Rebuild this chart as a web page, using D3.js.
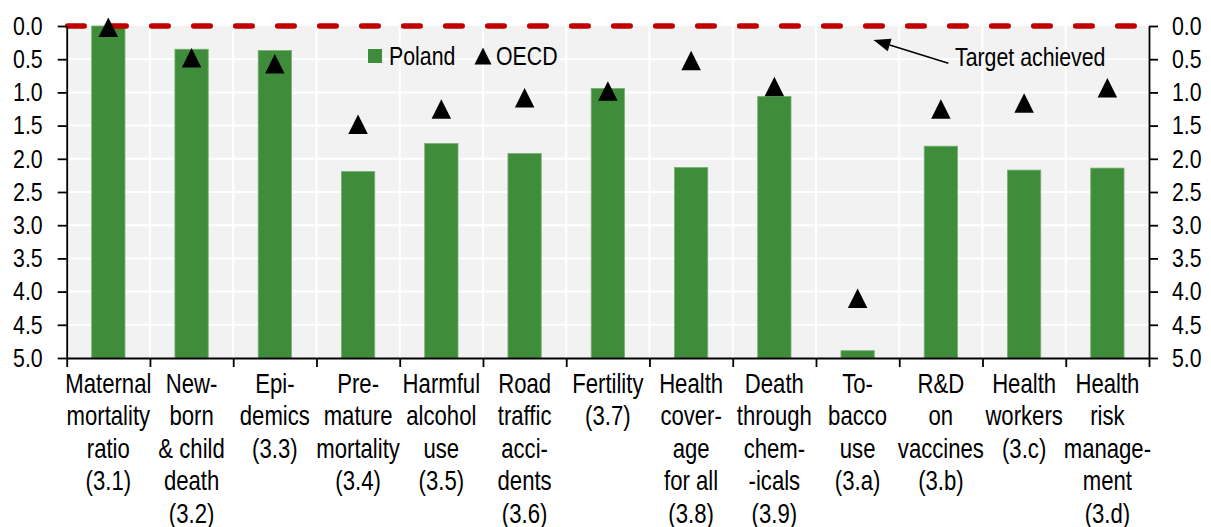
<!DOCTYPE html>
<html>
<head>
<meta charset="utf-8">
<script src="https://cdn.jsdelivr.net/npm/d3@7"></script>
<style>
  body { margin: 0; background: #fff; }
  text { font-family: 'Liberation Sans', Arial, sans-serif; fill: #000; }
</style>
</head>
<body>
<svg id="chart" width="1211" height="527"></svg>
<script>
// SDG 3 distance to target, Poland vs OECD (0 = target achieved)
var categories = [
  'Maternal mortality ratio (3.1)', 'Newborn & child death (3.2)', 'Epidemics (3.3)',
  'Premature mortality (3.4)', 'Harmful alcohol use (3.5)', 'Road traffic accidents (3.6)',
  'Fertility (3.7)', 'Health coverage for all (3.8)', 'Death through chemicals (3.9)',
  'Tobacco use (3.a)', 'R&D on vaccines (3.b)', 'Health workers (3.c)',
  'Health risk management (3.d)'
];
var labelLines = [
  ['Maternal', 'mortality', 'ratio', '(3.1)'],
  ['New-', 'born', '& child', 'death', '(3.2)'],
  ['Epi-', 'demics', '(3.3)'],
  ['Pre-', 'mature', 'mortality', '(3.4)'],
  ['Harmful', 'alcohol', 'use', '(3.5)'],
  ['Road', 'traffic', 'acci-', 'dents', '(3.6)'],
  ['Fertility', '(3.7)'],
  ['Health', 'cover-', 'age', 'for all', '(3.8)'],
  ['Death', 'through', 'chem-', '-icals', '(3.9)'],
  ['To-', 'bacco', 'use', '(3.a)'],
  ['R&D', 'on', 'vaccines', '(3.b)'],
  ['Health', 'workers', '(3.c)'],
  ['Health', 'risk', 'manage-', 'ment', '(3.d)']
];
var poland = [0.0, 0.35, 0.37, 2.19, 1.77, 1.92, 0.94, 2.13, 1.06, 4.89, 1.81, 2.17, 2.14];
var oecd = [0.02, 0.48, 0.57, 1.48, 1.25, 1.08, 0.98, 0.52, 0.91, 4.10, 1.25, 1.16, 0.93];
var yTicks = [0, 0.5, 1, 1.5, 2, 2.5, 3, 3.5, 4, 4.5, 5];
var targetValue = 0;

var opts = {
  left: 66.7,
  right: 1149,
  top: 26,
  bottom: 358,
  barFrac: 0.4,
  triSize: 19.5,
  green: '#3f8d3b',
  red: '#c00000',
  plotBg: '#f2f2f2',
  fontSize: 26,
  labelSize: 27,
  lineHeight: 32.5,
  squeeze: 0.82   // no Arial Narrow installed, so condense Liberation Sans
};

var svg = d3.select('#chart');

var x = d3.scaleBand()
  .domain(categories)
  .range([opts.left, opts.right])
  .padding(0);

var y = d3.scaleLinear()
  .domain([0, 5])
  .range([opts.top, opts.bottom]);

var bw = x.bandwidth();
var edges = d3.range(categories.length + 1).map(function(i) {
  return opts.left + i * bw;
});

// move x into a transform so the horizontal squeeze keeps the anchor point
function narrow(sel) {
  sel.each(function() {
    var t = d3.select(this);
    var tx = +t.attr('x') || 0;
    var ty = +t.attr('y') || 0;
    t.attr('x', 0).attr('y', 0)
      .attr('transform', 'translate(' + tx + ',' + ty + ') scale(' + opts.squeeze + ',1)');
  });
}

// plot background + grid
svg.append('rect')
  .attr('x', opts.left)
  .attr('y', opts.top)
  .attr('width', opts.right - opts.left)
  .attr('height', opts.bottom - opts.top)
  .attr('fill', opts.plotBg);

svg.append('g')
  .selectAll('line')
  .data(yTicks.slice(1, -1))
  .enter()
  .append('line')
  .attr('x1', opts.left)
  .attr('x2', opts.right)
  .attr('y1', function(d) { return y(d); })
  .attr('y2', function(d) { return y(d); })
  .attr('stroke', '#fff')
  .attr('stroke-width', 2);

svg.append('g')
  .selectAll('line')
  .data(edges.slice(1, -1))
  .enter()
  .append('line')
  .attr('x1', function(d) { return d; })
  .attr('x2', function(d) { return d; })
  .attr('y1', opts.top)
  .attr('y2', opts.bottom)
  .attr('stroke', '#fff')
  .attr('stroke-width', 2);

// bars grow up from 5.0 to the value
svg.append('g')
  .selectAll('rect')
  .data(poland)
  .enter()
  .append('rect')
  .attr('x', function(d, i) { return x(categories[i]) + bw * (1 - opts.barFrac) / 2; })
  .attr('width', bw * opts.barFrac)
  .attr('y', function(d) { return y(d); })
  .attr('height', function(d) { return y(5) - y(d); })
  .attr('fill', opts.green)
  .attr('stroke', '#78b074')
  .attr('stroke-width', 0.8);

// target line
svg.append('line')
  .attr('x1', opts.left + 1)
  .attr('x2', opts.right)
  .attr('y1', y(targetValue))
  .attr('y2', y(targetValue))
  .attr('stroke', opts.red)
  .attr('stroke-width', 5.5)
  .attr('stroke-linecap', 'round')
  .attr('stroke-dasharray', '16.5,25.5');

function triangle(s) {
  var p = d3.path();
  p.moveTo(0, -s / 2);
  p.lineTo(s / 2, s / 2);
  p.lineTo(-s / 2, s / 2);
  p.closePath();
  return p.toString();
}

svg.append('g')
  .selectAll('path')
  .data(oecd)
  .enter()
  .append('path')
  .attr('d', triangle(opts.triSize))
  .attr('transform', function(d, i) {
    return 'translate(' + (x(categories[i]) + bw / 2) + ',' + y(d) + ')';
  })
  .attr('fill', '#000');

// axes
function styleAxis(g) {
  g.selectAll('path.domain').attr('stroke', '#000').attr('stroke-width', 1.8);
  g.selectAll('.tick line').attr('stroke', '#000').attr('stroke-width', 1.8);
  g.selectAll('.tick text')
    .style('font-size', opts.fontSize + 'px')
    .attr('fill', '#000')
    .call(narrow);
}

var fmt = d3.format('.1f');

svg.append('g')
  .attr('transform', 'translate(' + opts.left + ',0)')
  .call(d3.axisLeft(y).tickValues(yTicks).tickFormat(fmt).tickSize(9).tickSizeOuter(0).tickPadding(15))
  .call(styleAxis);

svg.append('g')
  .attr('transform', 'translate(' + opts.right + ',0)')
  .call(d3.axisRight(y).tickValues(yTicks).tickFormat(fmt).tickSize(9).tickSizeOuter(0).tickPadding(14))
  .call(styleAxis);

// bottom axis: ticks sit on the band edges
var xEdge = d3.scaleLinear().domain([0, categories.length]).range([opts.left, opts.right]);
svg.append('g')
  .attr('transform', 'translate(0,' + opts.bottom + ')')
  .call(d3.axisBottom(xEdge).tickValues(d3.range(categories.length + 1))
    .tickFormat('').tickSize(9).tickSizeOuter(0))
  .call(styleAxis);

var labels = svg.append('g')
  .selectAll('text')
  .data(labelLines)
  .enter()
  .append('text')
  .attr('text-anchor', 'middle')
  .style('font-size', opts.labelSize + 'px')
  .attr('x', function(d, i) { return x(categories[i]) + bw / 2; })
  .attr('y', opts.bottom + 35)
  .call(narrow);

labels.selectAll('tspan')
  .data(function(d) { return d; })
  .enter()
  .append('tspan')
  .attr('x', 0)
  .attr('y', function(d, i) { return i * opts.lineHeight; })
  .text(function(d) { return d; });

// legend
var legend = svg.append('g')
  .attr('transform', 'translate(368,56)')
  .style('font-size', opts.fontSize + 'px');

legend.append('rect')
  .attr('x', 0)
  .attr('y', -7)
  .attr('width', 14)
  .attr('height', 14)
  .attr('fill', opts.green);
legend.append('text')
  .attr('x', 21)
  .attr('y', 9)
  .text('Poland')
  .call(narrow);
legend.append('path')
  .attr('d', triangle(17))
  .attr('transform', 'translate(115,0)');
legend.append('text')
  .attr('x', 128)
  .attr('y', 9)
  .text('OECD')
  .call(narrow);

// annotation
var tip = [x(categories[9]) + bw * 0.69, y(targetValue) + 14];
var tail = [x(categories[10]) + bw * 0.59, y(0.56)];
var ang = Math.atan2(tip[1] - tail[1], tip[0] - tail[0]);
var headLen = 17;
var headW = 6.5;
var base = [tip[0] - headLen * Math.cos(ang), tip[1] - headLen * Math.sin(ang)];

svg.append('line')
  .attr('x1', tail[0])
  .attr('y1', tail[1])
  .attr('x2', base[0])
  .attr('y2', base[1])
  .attr('stroke', '#000')
  .attr('stroke-width', 1.5);

svg.append('path')
  .attr('d', d3.line()([
    tip,
    [base[0] + headW * Math.sin(ang), base[1] - headW * Math.cos(ang)],
    [base[0] - headW * Math.sin(ang), base[1] + headW * Math.cos(ang)]
  ]) + 'Z')
  .attr('fill', '#000');

svg.append('text')
  .attr('x', x(categories[10]) + bw * 0.67)
  .attr('y', y(0.6))
  .style('font-size', opts.fontSize + 'px')
  .text('Target achieved')
  .call(narrow);
</script>
</body>
</html>
